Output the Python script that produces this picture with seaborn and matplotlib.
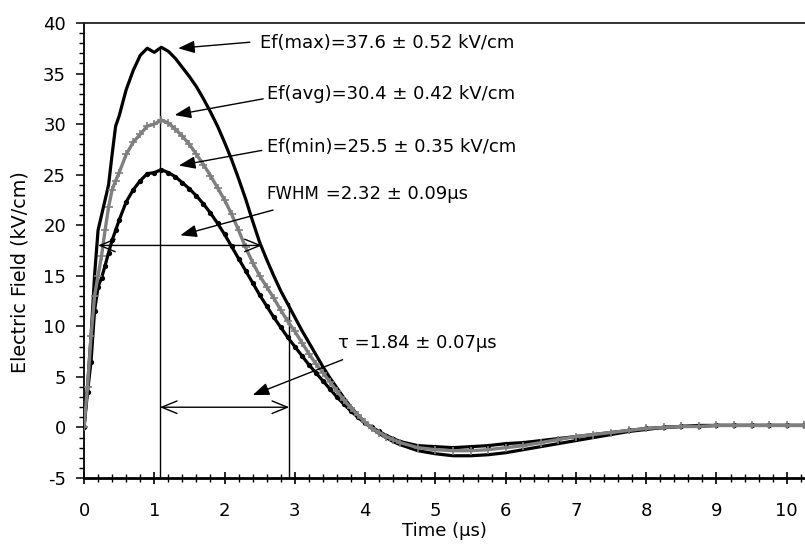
import matplotlib
matplotlib.use("Agg")
import matplotlib.pyplot as plt
import pandas as pd
import seaborn as sns
from matplotlib.ticker import MultipleLocator

# ---- data ----
time_us = [0, 0.05, 0.1, 0.15, 0.2, 0.25, 0.3, 0.35, 0.4, 0.45, 0.5,
           0.6, 0.7, 0.8, 0.9, 1.0, 1.1, 1.2, 1.3, 1.4, 1.5, 1.6, 1.7, 1.8, 1.9,
           2.0, 2.1, 2.2, 2.3, 2.4, 2.5, 2.6, 2.7, 2.8, 2.9, 3.0, 3.1, 3.2, 3.3,
           3.4, 3.5, 3.6, 3.7, 3.8, 3.9, 4.0, 4.1, 4.2, 4.3, 4.4, 4.5,
           4.75, 5.0, 5.25, 5.5, 5.75, 6.0, 6.25, 6.5, 6.75, 7.0, 7.25, 7.5,
           7.75, 8.0, 8.25, 8.5, 8.75, 9.0, 9.25, 9.5, 9.75, 10.0, 10.25]

ef_max = [0, 4.0, 9.0, 15.0, 19.5, 21.0, 22.5, 24.0, 27.0, 29.8, 30.8,
          33.4, 35.3, 36.8, 37.5, 37.1, 37.6, 37.2, 36.5, 35.6, 34.7, 33.7, 32.5, 31.2, 29.8,
          28.2, 26.5, 24.6, 22.6, 20.4, 18.3, 16.6, 15.0, 13.5, 12.2, 10.9, 9.6, 8.4, 7.2,
          6.0, 4.9, 3.9, 2.9, 2.0, 1.2, 0.5, -0.1, -0.6, -1.0, -1.4, -1.7,
          -2.3, -2.6, -2.8, -2.8, -2.7, -2.5, -2.2, -1.9, -1.6, -1.3, -1.0, -0.7,
          -0.4, -0.2, 0.0, 0.1, 0.2, 0.2, 0.2, 0.2, 0.2, 0.2, 0.2]

ef_avg = [0, 4.0, 9.0, 13.0, 15.0, 17.0, 19.5, 21.8, 23.5, 24.4, 25.2,
          27.0, 28.2, 29.0, 29.8, 30.0, 30.4, 30.1, 29.5, 28.8, 28.0, 27.0, 26.0, 24.9, 23.7,
          22.5, 21.1, 19.5, 17.8, 16.3, 15.0, 13.9, 12.8, 11.6, 10.5, 9.5, 8.4, 7.3, 6.3,
          5.4, 4.5, 3.6, 2.7, 1.9, 1.2, 0.5, -0.1, -0.5, -0.9, -1.2, -1.5,
          -2.0, -2.2, -2.3, -2.3, -2.2, -2.0, -1.8, -1.5, -1.2, -0.9, -0.7, -0.5,
          -0.3, -0.1, 0.0, 0.1, 0.1, 0.2, 0.2, 0.2, 0.2, 0.2, 0.2]

ef_min = [0, 3.5, 6.5, 11.5, 13.9, 14.8, 16.0, 17.3, 18.5, 19.5, 20.5,
          22.3, 23.5, 24.4, 25.1, 25.2, 25.5, 25.2, 24.8, 24.2, 23.6, 22.9, 22.1, 21.2, 20.2,
          19.1, 17.9, 16.7, 15.5, 14.3, 13.1, 12.0, 10.9, 9.9, 8.9, 8.0, 7.1, 6.2, 5.4,
          4.6, 3.8, 3.0, 2.3, 1.6, 1.0, 0.4, 0.0, -0.4, -0.8, -1.1, -1.4,
          -1.8, -1.9, -2.0, -1.9, -1.8, -1.6, -1.5, -1.3, -1.1, -0.9, -0.7, -0.5,
          -0.3, -0.1, 0.0, 0.1, 0.1, 0.2, 0.2, 0.2, 0.2, 0.2, 0.2]

x_ticks = list(range(0, 11))
y_ticks = list(range(-5, 41, 5))

label_max = "Ef(max)=37.6 \u00b1 0.52 kV/cm"
label_avg = "Ef(avg)=30.4 \u00b1 0.42 kV/cm"
label_min = "Ef(min)=25.5 \u00b1 0.35 kV/cm"
label_fwhm_a = "FWHM"
label_fwhm_b = " =2.32 \u00b1 0.09\u03bcs"
label_tau = "\u03c4 =1.84 \u00b1 0.07\u03bcs"
x_label = "Time (\u03bcs)"
y_label = "Electric Field (kV/cm)"

peak_t = 1.08
tau_end_t = 2.92
fwhm_start, fwhm_end, fwhm_level = 0.2, 2.53, 18.0
tau_level = 2.0

# ---- drawing ----
sns.set_theme(style="white")
plt.rcParams['font.family'] = ['DejaVu Sans']
plt.rcParams['axes.unicode_minus'] = False

fig = plt.figure(figsize=(8.05, 5.5), dpi=100)
ax = fig.add_axes([84 / 805, 72 / 550, 1 - 84 / 805, (478 - 23) / 550])

df = pd.DataFrame({'t': time_us, 'max': ef_max, 'avg': ef_avg, 'min': ef_min})

sns.lineplot(data=df, x='t', y='max', ax=ax, color='black', lw=2.3, sort=False, zorder=3)
sns.lineplot(data=df, x='t', y='min', ax=ax, color='black', lw=2.3, marker='o',
             markersize=3.8, markeredgewidth=0, sort=False, zorder=3)
sns.lineplot(data=df, x='t', y='avg', ax=ax, color='#7f7f7f', lw=2.4, marker='+',
             markersize=6, markeredgewidth=1.2, markeredgecolor='#7f7f7f', sort=False, zorder=4)

ax.set_xlim(0, 10.26)
ax.set_ylim(-5, 40)
ax.set_xticks(x_ticks)
ax.set_yticks(y_ticks)
ax.xaxis.set_minor_locator(MultipleLocator(0.2))
ax.yaxis.set_minor_locator(MultipleLocator(1))

ax.spines['right'].set_visible(False)
ax.spines['top'].set_linewidth(1.3)
ax.spines['top'].set_color('#222222')
ax.spines['left'].set_linewidth(1.3)
ax.spines['left'].set_color('black')
ax.spines['bottom'].set_linewidth(2.0)
ax.spines['bottom'].set_color('black')

ax.tick_params(axis='x', which='major', direction='inout', length=9, width=1.2,
               pad=13, bottom=True, top=False, labelsize=13, color='black', labelcolor='black')
ax.tick_params(axis='x', which='minor', direction='inout', length=6, width=1.0,
               bottom=True, top=False, color='black')
ax.tick_params(axis='y', which='major', direction='out', length=6, width=1.1,
               pad=7, left=True, right=False, labelsize=13, color='black', labelcolor='black')
ax.tick_params(axis='y', which='minor', direction='out', length=3.6, width=1.0,
               left=True, right=False, color='black')

ax.set_xlabel(x_label, fontsize=13, color='black', labelpad=1)
ax.set_ylabel(y_label, fontsize=13.8, color='black')
ax.yaxis.set_label_coords(-0.076, 0.453)

# vertical guide lines
ax.plot([peak_t, peak_t], [-5, 37.6], color='black', lw=1.0, zorder=2)
ax.plot([tau_end_t, tau_end_t], [-5, 12.3], color='black', lw=1.0, zorder=2)

# double-headed arrows
dbl = dict(arrowstyle='<->,head_length=1.1,head_width=0.45', color='black', lw=1.0,
           shrinkA=0, shrinkB=0, mutation_scale=10)
ax.annotate('', xy=(fwhm_start, fwhm_level), xytext=(fwhm_end, fwhm_level), arrowprops=dbl, zorder=5)
ax.annotate('', xy=(peak_t, tau_level), xytext=(tau_end_t, tau_level), arrowprops=dbl, zorder=5)

# labelled arrows
arr = dict(arrowstyle='-|>,head_length=1.0,head_width=0.38', color='black', lw=1.0,
           shrinkA=0, shrinkB=0, mutation_scale=10)
ax.annotate('', xy=(1.34, 37.5), xytext=(2.36, 38.1), arrowprops=arr, zorder=6)
ax.annotate('', xy=(1.29, 30.9), xytext=(2.55, 32.5), arrowprops=arr, zorder=6)
ax.annotate('', xy=(1.35, 25.9), xytext=(2.53, 27.4), arrowprops=arr, zorder=6)
ax.annotate('', xy=(1.37, 19.0), xytext=(2.69, 21.5), arrowprops=arr, zorder=6)
ax.annotate('', xy=(2.40, 3.2), xytext=(3.68, 6.7), arrowprops=arr, zorder=6)

ax.text(2.50, 38.0, label_max, fontsize=13, va='center', ha='left', color='black')
ax.text(2.60, 33.0, label_avg, fontsize=13, va='center', ha='left', color='black')
ax.text(2.60, 27.7, label_min, fontsize=13, va='center', ha='left', color='black')
t1 = ax.text(2.60, 22.6, label_fwhm_a, fontsize=12, va='baseline', ha='left', color='black')
ax.annotate(label_fwhm_b, xy=(1, 0), xycoords=t1, fontsize=13, va='bottom', ha='left', color='black')
ax.text(3.61, 8.4, label_tau, fontsize=13, va='center', ha='left', color='black')

fig.savefig('out.png', dpi=100)
